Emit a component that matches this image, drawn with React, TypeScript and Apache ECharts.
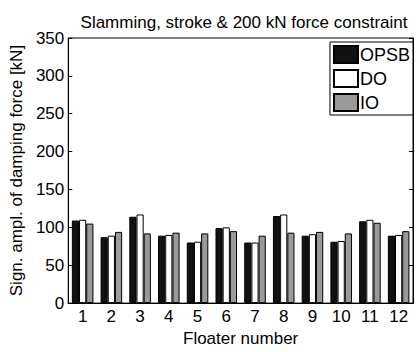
import React, { useEffect, useRef } from "react";
import * as echarts from "echarts";

const categories = ["1", "2", "3", "4", "5", "6", "7", "8", "9", "10", "11", "12"];
const opsb = [109, 87, 114, 89, 80, 99, 80, 115, 89, 81, 108, 89];
const dO = [110, 89, 117, 90, 81, 100, 80, 117, 91, 82, 110, 90];
const io = [105, 94, 92, 93, 92, 95, 89, 93, 94, 92, 106, 95];
const yTicks = [0, 50, 100, 150, 200, 250, 300, 350];

export default function App() {
  const ref = useRef<HTMLDivElement>(null);
  useEffect(() => {
    if (!ref.current) return;
    const chart = echarts.init(ref.current, null, { renderer: "svg" });
    const font = "'Liberation Sans', Arial, sans-serif";
    const border = { borderColor: "#000", borderWidth: 1 };
    chart.setOption({
      animation: false,
      backgroundColor: "#fff",
      textStyle: { fontFamily: font, color: "#000" },
      title: {
        text: "Slamming, stroke & 200 kN force constraint",
        left: 239,
        textAlign: "center",
        top: 9,
        textStyle: { fontSize: 17, fontWeight: "normal", color: "#000", fontFamily: font },
      },
      grid: { left: 63, right: 7, top: 38, bottom: 42, show: true, borderColor: "#000", borderWidth: 1, backgroundColor: "transparent" },
      legend: {
        orient: "vertical",
        right: 7,
        top: 42,
        icon: "rect",
        itemWidth: 24,
        itemHeight: 17,
        itemGap: 5,
        padding: [3, 3, 3, 3],
        borderColor: "#000",
        borderWidth: 1,
        backgroundColor: "#fff",
        textStyle: { fontSize: 18, color: "#000", fontFamily: font, padding: [0, 0, 0, -3] },
        data: ["OPSB", "DO", "IO"],
      },
      xAxis: [
        {
          type: "category",
          data: categories,
          name: "Floater number",
          nameLocation: "middle",
          nameGap: 24,
          nameTextStyle: { fontSize: 17, color: "#000", fontFamily: font },
          axisLine: { lineStyle: { color: "#000" } },
          axisTick: { inside: true, alignWithLabel: true, length: 4, lineStyle: { color: "#000" } },
          axisLabel: { fontSize: 17, color: "#000", margin: 5, fontFamily: font },
        },
        {
          type: "category",
          data: categories,
          position: "top",
          axisLine: { lineStyle: { color: "#000" } },
          axisTick: { inside: true, alignWithLabel: true, length: 4, lineStyle: { color: "#000" } },
          axisLabel: { show: false },
        },
      ],
      yAxis: [
        {
          type: "value",
          min: 0,
          max: 350,
          interval: 50,
          name: "Sign. ampl. of damping force [kN]",
          nameLocation: "middle",
          nameGap: 37,
          nameTextStyle: { fontSize: 17, color: "#000", fontFamily: font },
          axisLine: { show: true, lineStyle: { color: "#000" } },
          axisTick: { show: true, inside: true, length: 4, lineStyle: { color: "#000" } },
          axisLabel: { fontSize: 17, color: "#000", margin: 4, fontFamily: font, formatter: (v: number) => (yTicks.includes(v) ? String(v) : "") },
          splitLine: { show: false },
        },
        {
          type: "value",
          min: 0,
          max: 350,
          interval: 50,
          position: "right",
          axisLine: { show: true, lineStyle: { color: "#000" } },
          axisTick: { show: true, inside: true, length: 4, lineStyle: { color: "#000" } },
          axisLabel: { show: false },
          splitLine: { show: false },
        },
      ],
      series: [
        { name: "OPSB", type: "bar", data: opsb, barGap: "0%", barCategoryGap: "25%", itemStyle: { color: "#111", ...border } },
        { name: "DO", type: "bar", data: dO, barGap: "0%", barCategoryGap: "25%", itemStyle: { color: "#fff", ...border } },
        { name: "IO", type: "bar", data: io, barGap: "0%", barCategoryGap: "25%", itemStyle: { color: "#9a9a9a", ...border } },
      ],
    });
    return () => chart.dispose();
  }, []);
  return <div ref={ref} style={{ width: 420, height: 352, position: "absolute", left: 0, top: 0 }} />;
}
